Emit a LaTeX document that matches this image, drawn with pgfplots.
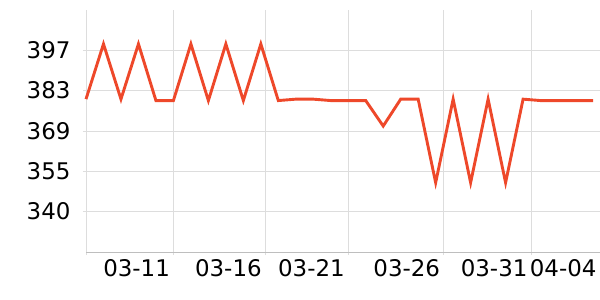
\documentclass[border=0pt]{standalone}
\usepackage{pgfplots}
\pgfplotsset{compat=1.18}
\usepackage{fontspec}
\setmainfont{DejaVu Sans}
\definecolor{linec}{RGB}{238,72,42}
\definecolor{gridc}{RGB}{221,221,221}
\definecolor{axisc}{RGB}{190,190,190}
\begin{document}
\begin{tikzpicture}
\begin{axis}[
  name=ax,
  scale only axis,
  width=514bp, height=242bp,
  xmin=0, xmax=29.4,
  ymin=326, ymax=411.5,
  axis x line*=bottom, axis y line*=left,
  x axis line style={-, draw=axisc, line width=0.8pt},
  y axis line style={draw=none},
  xtick={0,5,10.25,15,20.45,25.45},
  xticklabels={,03-11,03-16,03-21,03-26,03-31},
  extra x ticks={29.4},
  extra x tick labels={04-04},
  extra x tick style={grid=none, tick style={draw=none}},
  ytick={340.4,354.5,368.75,383.1,397.37},
  yticklabels={340,355,369,383,397},
  grid=major,
  grid style={draw=gridc, line width=0.7pt},
  tick align=outside,
  major tick length=3bp,
  tick style={draw=gridc, line width=0.7pt},
  /pgf/number format/assume math mode=true,
  tick label style={font=\fontsize{23}{27}\selectfont, text=black},
  xticklabel style={anchor=north east, xshift=0bp, yshift=-1bp},
  yticklabel style={xshift=-9bp},
  clip=false,
]
\addplot[linec, line width=2.9bp, line join=miter] coordinates {
(0,380) (1,399.5) (2,380) (3,399.5) (4,379.5) (5,379.5) (6,399.5) (7,379.5)
(8,399.5) (9,379.5) (10,399.5) (11,379.5) (12,380) (13,380) (14,379.5)
(15,379.5) (16,379.5) (17,370.5) (18,380) (19,380) (20,350.5) (21,380)
(22,350.5) (23,380) (24,350.5) (25,380) (26,379.5) (27,379.5) (28,379.5) (29,379.5)
};
\end{axis}
\pgfresetboundingbox
\path ([xshift=-86bp,yshift=-48bp]ax.south west) rectangle ([yshift=10bp]ax.north east);
\end{tikzpicture}
\end{document}
